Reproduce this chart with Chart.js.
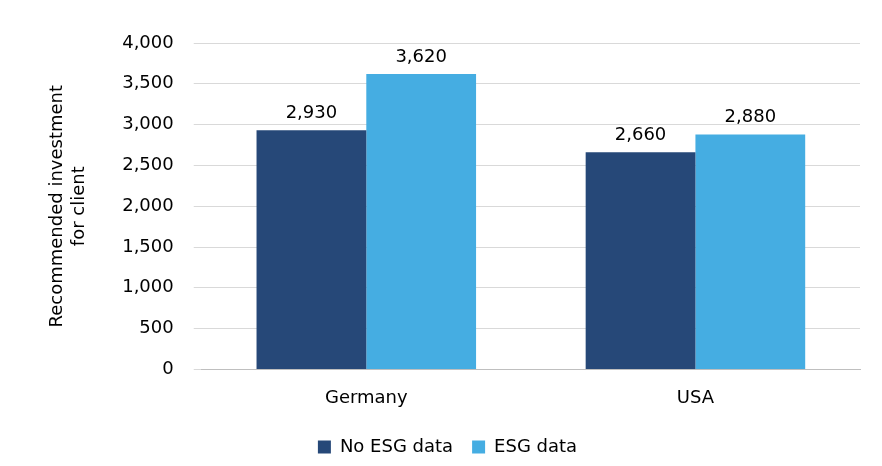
<!DOCTYPE html>
<html>
<head>
<meta charset="utf-8">
<script src="https://cdn.jsdelivr.net/npm/chart.js@4"></script>
<style>
  body { margin: 0; background: #fff; }
  #wrap { width: 882px; height: 466px; }
</style>
</head>
<body>
<div id="wrap"><canvas id="bars"></canvas></div>
<script>
const categories = ['Germany', 'USA'];
const noEsg = [2930, 2660];
const withEsg = [3620, 2880];
const yTicks = [0, 500, 1000, 1500, 2000, 2500, 3000, 3500, 4000];

Chart.defaults.font.family = '"DejaVu Sans", Verdana, sans-serif';
Chart.defaults.font.size = 18;
Chart.defaults.color = '#000';

// draw values above bars
const valueLabels = {
    id: 'valueLabels',
    afterDatasetsDraw(chart) {
        const ctx = chart.ctx;
        ctx.save();
        ctx.font = '18px "DejaVu Sans", Verdana, sans-serif';
        ctx.fillStyle = '#000';
        ctx.textAlign = 'center';
        ctx.textBaseline = 'bottom';
        chart.data.datasets.forEach((ds, i) => {
            chart.getDatasetMeta(i).data.forEach((bar, j) => {
                ctx.fillText(ds.data[j].toLocaleString('en-US'), bar.x, bar.y - 8);
            });
        });
        ctx.restore();
    }
};

const ctx = document.getElementById('bars').getContext('2d');
new Chart(ctx, {
    type: 'bar',
    data: {
        labels: categories,
        datasets: [
            { label: 'No ESG data', data: noEsg, backgroundColor: '#264878' },
            { label: 'ESG data', data: withEsg, backgroundColor: '#45ADE2' }
        ]
    },
    options: {
        responsive: true,
        maintainAspectRatio: false,
        animation: false,
        layout: { padding: { top: 43, right: 22, left: 35, bottom: 0 } },
        plugins: {
            legend: {
                position: 'bottom',
                labels: { boxWidth: 13, boxHeight: 13, padding: 19, font: { size: 18 } }
            },
            tooltip: { enabled: false }
        },
        datasets: { bar: { barPercentage: 1, categoryPercentage: 0.667 } },
        scales: {
            x: {
                grid: { display: false },
                border: { color: '#bfbfbf' },
                ticks: { padding: 10 }
            },
            y: {
                min: 0, max: 4000,
                afterBuildTicks(axis) { axis.ticks = yTicks.map(v => ({ value: v })); },
                grid: { color: '#d9d9d9' },
                border: { display: false },
                ticks: { padding: 20, callback: v => v.toLocaleString('en-US') },
                title: {
                    display: true,
                    text: ['Recommended investment', 'for client'],
                    font: { size: 18 },
                    padding: 12
                }
            }
        }
    },
    plugins: [valueLabels]
});
</script>
</body>
</html>
